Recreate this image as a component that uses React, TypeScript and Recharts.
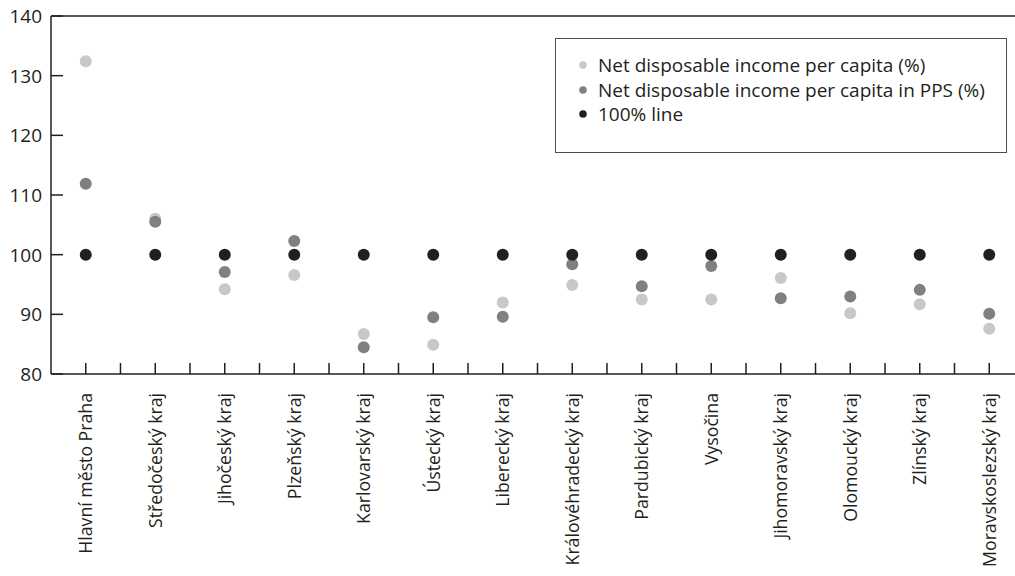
import React from "react";
import { ComposedChart, Scatter, XAxis, YAxis, ReferenceLine, Legend } from "recharts";

const regions = [
  "Hlavní město Praha",
  "Středočeský kraj",
  "Jihočeský kraj",
  "Plzeňský kraj",
  "Karlovarský kraj",
  "Ústecký kraj",
  "Liberecký kraj",
  "Královéhradecký kraj",
  "Pardubický kraj",
  "Vysočina",
  "Jihomoravský kraj",
  "Olomoucký kraj",
  "Zlínský kraj",
  "Moravskoslezský kraj",
];

const incomePerCapita = [132.4, 106.0, 94.2, 96.6, 86.7, 84.9, 92.0, 94.9, 92.5, 92.5, 96.1, 90.2, 91.7, 87.6];
const incomePPS = [111.9, 105.5, 97.1, 102.3, 84.5, 89.5, 89.6, 98.4, 94.7, 98.1, 92.7, 93.0, 94.1, 90.1];
const hundredLine = [100, 100, 100, 100, 100, 100, 100, 100, 100, 100, 100, 100, 100, 100];

const yTicks = [80, 90, 100, 110, 120, 130, 140];

const SERIES_NAMES = [
  "Net disposable income per capita (%)",
  "Net disposable income per capita in PPS (%)",
  "100% line",
];

const data = regions.map((name, i) => ({
  name,
  a: incomePerCapita[i],
  b: incomePPS[i],
  c: hundredLine[i],
}));

const INK = "#231f20";
const FONT = "'Open Sans', sans-serif";
const CHART_W = 1024;
const YAXIS_W = 51;
const BAND = (CHART_W - YAXIS_W) / regions.length;

const XTick = (props: any) => {
  const { x, y, payload } = props;
  const half = payload && payload.offset ? payload.offset : BAND / 2;
  return (
    <g>
      <line x1={x} x2={x} y1={y} y2={y - 11} stroke={INK} strokeWidth={1.5} />
      <line x1={x + half} x2={x + half} y1={y} y2={y - 11} stroke={INK} strokeWidth={1.5} />
      <text
        x={0}
        y={0}
        transform={`translate(${x},${y + 19}) rotate(-90)`}
        textAnchor="end"
        dy="0.36em"
        fontSize={17.7}
        fontFamily={FONT}
        fill={INK}
      >
        {payload.value}
      </text>
    </g>
  );
};

const YTick = (props: any) => {
  const { x, y, payload } = props;
  return (
    <g>
      <line x1={x + 9} x2={x + 21} y1={y} y2={y} stroke={INK} strokeWidth={1.5} />
      <text x={x} y={y} dy="0.36em" textAnchor="end" fontSize={19} fontFamily={FONT} fill={INK}>
        {payload.value}
      </text>
    </g>
  );
};

const LegendBox = (props: any) => {
  const payload = [...(props.payload || [])].sort(
    (p: any, q: any) => SERIES_NAMES.indexOf(p.value) - SERIES_NAMES.indexOf(q.value)
  );
  return (
    <div
      style={{
        width: 452,
        height: 115,
        boxSizing: "border-box",
        border: "1.5px solid #4d4d4d",
        paddingTop: 14,
        paddingLeft: 22,
        fontFamily: FONT,
        fontSize: 19,
        color: INK,
      }}
    >
      {payload.map((p: any, i: number) => (
        <div key={i} style={{ display: "flex", alignItems: "center", height: 24.5 }}>
          <svg width={20} height={10}>
            <circle cx={5} cy={5} r={3.8} fill={p.color} />
          </svg>
          <span style={{ lineHeight: "24px" }}>{p.value}</span>
        </div>
      ))}
    </div>
  );
};

export default function App() {
  return (
    <div style={{ position: "absolute", left: 0, top: 0, width: 1015, height: 576, overflow: "hidden", background: "#fff" }}>
      <ComposedChart
        width={CHART_W}
        height={576}
        data={data}
        margin={{ top: 16, right: 0, left: 0, bottom: 0 }}
      >
        <XAxis
          dataKey="name"
          type="category"
          scale="band"
          interval={0}
          height={202}
          tickSize={0}
          tickMargin={0}
          tickLine={false}
          axisLine={{ stroke: INK, strokeWidth: 1.5 }}
          tick={<XTick />}
        />
        <YAxis
          type="number"
          domain={[80, 140]}
          ticks={yTicks}
          interval={0}
          width={YAXIS_W}
          tickSize={0}
          tickMargin={9}
          tickLine={false}
          axisLine={{ stroke: INK, strokeWidth: 1.5 }}
          tick={<YTick />}
        />
        <ReferenceLine y={140} stroke={INK} strokeWidth={1.5} />
        <Legend
          layout="horizontal"
          verticalAlign="middle"
          align="center"
          content={<LegendBox />}
          wrapperStyle={{ left: 555, top: 38, width: 452, height: 115 }}
        />
        <Scatter name={SERIES_NAMES[0]} dataKey="a" fill="#c8c8c8" shape={(p: any) => <circle cx={p.cx} cy={p.cy} r={6} fill="#c8c8c8" />} isAnimationActive={false} />
        <Scatter name={SERIES_NAMES[1]} dataKey="b" fill="#808080" shape={(p: any) => <circle cx={p.cx} cy={p.cy} r={6} fill="#808080" />} isAnimationActive={false} />
        <Scatter name={SERIES_NAMES[2]} dataKey="c" fill={INK} shape={(p: any) => <circle cx={p.cx} cy={p.cy} r={6} fill={INK} />} isAnimationActive={false} />
      </ComposedChart>
    </div>
  );
}
